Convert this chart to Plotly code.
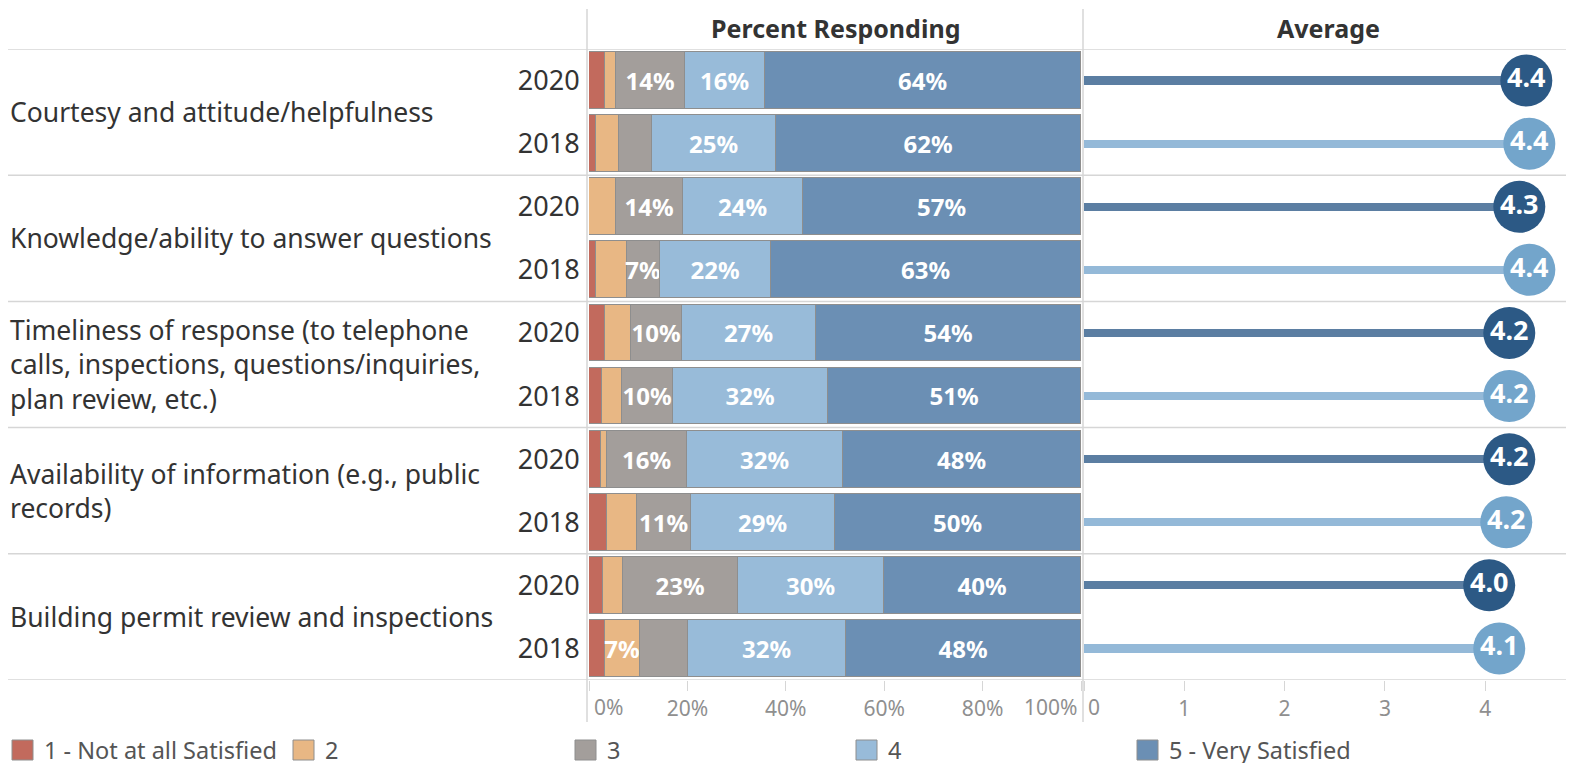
import plotly.graph_objects as go

# ---------------- data ----------------
categories = [
    "Courtesy and attitude/helpfulness",
    "Knowledge/ability to answer questions",
    "Timeliness of response (to telephone<br>calls, inspections, questions/inquiries,<br>plan review, etc.)",
    "Availability of information (e.g., public<br>records)",
    "Building permit review and inspections",
]
years = ["2020", "2018"]

# percent responding, rows ordered: cat0-2020, cat0-2018, cat1-2020, ...
pct_1 = [3.3, 1.5, 0.0, 1.5, 3.2, 2.6, 2.4, 3.7, 2.8, 3.3]
pct_2 = [2.2, 4.5, 5.5, 6.3, 5.3, 4.1, 1.2, 6.1, 4.1, 7.1]
pct_3 = [14.1, 6.9, 13.7, 6.7, 10.4, 10.3, 16.4, 11.0, 23.4, 9.7]
pct_4 = [16.2, 25.2, 24.2, 22.4, 27.2, 31.6, 31.6, 29.1, 29.6, 32.1]
pct_5 = [64.2, 61.9, 56.6, 63.1, 53.9, 51.4, 48.4, 50.1, 40.1, 47.8]

# which segment labels are shown (as in the reference)
show_1 = [False] * 10
show_2 = [False, False, False, False, False, False, False, False, False, True]
show_3 = [True, False, True, True, True, True, True, True, True, False]
show_4 = [True] * 10
show_5 = [True] * 10

avg_2020 = [4.41, 4.34, 4.24, 4.24, 4.04]
avg_2018 = [4.44, 4.44, 4.24, 4.21, 4.14]

level_names = ["1 - Not at all Satisfied", "2", "3", "4", "5 - Very Satisfied"]
level_colors = ["#c26a5d", "#e8b784", "#a39e9b", "#98bbd9", "#6b8fb4"]

pct_ticks = [0, 20, 40, 60, 80, 100]
avg_ticks = [0, 1, 2, 3, 4]

# ---------------- geometry helpers ----------------
W, H = 1574, 763
OFF = 8                     # page body margin of the html page
T = 49 - OFF                # top of plot area (page px 49)
B = H - (680 - OFF)         # bottom of plot area (page px 680)
PH = H - T - B


def px_x(p):
    return (p - OFF) / W


def px_y(p):
    return (H - B - (p - OFF)) / PH


FONT = "Noto Sans"
rows = list(range(len(pct_1)))
row_years = [years[i % 2] for i in rows]

fig = go.Figure()

series = [pct_1, pct_2, pct_3, pct_4, pct_5]
shows = [show_1, show_2, show_3, show_4, show_5]
for name, col, vals, shw in zip(level_names, level_colors, series, shows):
    texts = [f"{round(v)}%" if s else "" for v, s in zip(vals, shw)]
    fig.add_trace(go.Bar(
        x=vals, y=rows, orientation="h", name=name,
        marker=dict(color=col, line=dict(color="#8e8e8e", width=1)),
        width=0.9, text=texts, textposition="inside", textangle=0,
        insidetextanchor="middle", constraintext="none",
        textfont=dict(color="white", size=24, family=FONT, weight="bold"),
        showlegend=False, hoverinfo="skip",
        xaxis="x", yaxis="y",
    ))

# averages: lines + circles
avg_rows_2020 = [2 * i for i in range(len(avg_2020))]
avg_rows_2018 = [2 * i + 1 for i in range(len(avg_2018))]
line_cols = {"2020": "#5b7ea2", "2018": "#94b9d8"}
dot_cols = {"2020": "#2c5985", "2018": "#73a5cb"}
for yr, vals, rr in [("2020", avg_2020, avg_rows_2020), ("2018", avg_2018, avg_rows_2018)]:
    fig.add_trace(go.Bar(
        x=vals, y=rr, orientation="h", width=0.13,
        marker=dict(color=line_cols[yr], line=dict(width=0)),
        showlegend=False, hoverinfo="skip", xaxis="x2", yaxis="y2",
    ))
    fig.add_trace(go.Scatter(
        x=vals, y=rr, mode="markers+text",
        marker=dict(size=52, color=dot_cols[yr], line=dict(width=0)),
        text=[f"{v:.1f}" for v in vals], textposition="middle center",
        textfont=dict(color="white", size=27, family=FONT, weight="bold"),
        showlegend=False, hoverinfo="skip", xaxis="x2", yaxis="y2",
        cliponaxis=False,
    ))

grid = "#d6d6d6"
tick_col = "#8f8f8f"
tickfont = dict(size=21, color=tick_col, family=FONT)
xdom1 = [px_x(589), px_x(1081)]
xdom2 = [px_x(1084), px_x(1084) + 490 / W]


def tick_labels(ticks, fmt, hide):
    return ["" if t in hide else fmt(t) for t in ticks]


fig.update_layout(
    width=W, height=H, autosize=False,
    margin=dict(l=0, r=0, t=T, b=B, pad=0, autoexpand=False),
    plot_bgcolor="white", paper_bgcolor="white",
    barmode="stack", bargap=0,
    font=dict(family=FONT, color="#333333"),
    xaxis=dict(domain=xdom1, range=[0, 100], tickvals=pct_ticks,
               ticktext=tick_labels(pct_ticks, lambda t: f"{t}%", {0, 100}),
               showgrid=False, automargin=False,
               zeroline=False, ticks="outside", ticklen=10, tickcolor=grid,
               tickfont=tickfont, showline=False, fixedrange=True),
    xaxis2=dict(domain=xdom2, range=[0, 490 / 100.3], tickvals=avg_ticks,
                ticktext=tick_labels(avg_ticks, lambda t: f"{t}", {0}), automargin=False,
                showgrid=False, zeroline=False, ticks="outside", ticklen=10,
                tickcolor=grid, tickfont=tickfont, showline=False, anchor="y2"),
    yaxis=dict(range=[9.5, -0.5], tickvals=rows, ticktext=row_years,
               tickfont=dict(size=27, color="#333333", family=FONT),
               ticks="outside", ticklen=3, tickcolor="rgba(0,0,0,0)", automargin=False,
               showgrid=False, zeroline=False, anchor="x"),
    yaxis2=dict(range=[9.5, -0.5], matches="y", showticklabels=False, automargin=False,
                showgrid=False, zeroline=False, anchor="x2"),
)

shapes = []
# horizontal separators
for yb in [-0.5, 1.5, 3.5, 5.5, 7.5, 9.5]:
    shapes.append(dict(type="line", xref="paper", yref="y", x0=px_x(0), x1=px_x(1568),
                       y0=yb, y1=yb, line=dict(color=grid, width=1.5), layer="above"))
# vertical separators
for xp in [587, 1083]:
    shapes.append(dict(type="line", xref="paper", yref="paper", x0=px_x(xp), x1=px_x(xp),
                       y0=px_y(722), y1=px_y(9), line=dict(color=grid, width=1.5)))

annotations = []
# end tick labels placed inside their panels (as in the reference)
tick_y = px_y(707)
annotations.append(dict(text=f"{pct_ticks[0]}%", xref="x", yref="paper", x=pct_ticks[0],
                        y=tick_y, xanchor="left", yanchor="middle", xshift=3,
                        showarrow=False, font=tickfont))
annotations.append(dict(text=f"{pct_ticks[-1]}%", xref="x", yref="paper", x=pct_ticks[-1],
                        y=tick_y, xanchor="right", yanchor="middle", xshift=-1,
                        showarrow=False, font=tickfont))
annotations.append(dict(text=f"{avg_ticks[0]}", xref="x2", yref="paper", x=avg_ticks[0],
                        y=tick_y, xanchor="left", yanchor="middle", xshift=2,
                        showarrow=False, font=tickfont))

annotations.append(dict(text="Percent Responding", xref="paper", yref="paper",
                        x=(xdom1[0] + xdom1[1]) / 2, y=px_y(28), showarrow=False,
                        xanchor="center", yanchor="middle",
                        font=dict(size=25, color="#333333", family=FONT, weight="bold")))
annotations.append(dict(text="Average", xref="paper", yref="paper",
                        x=px_x(1328), y=px_y(28), showarrow=False,
                        xanchor="center", yanchor="middle",
                        font=dict(size=25, color="#333333", family=FONT, weight="bold")))
for i, c in enumerate(categories):
    annotations.append(dict(text=c, xref="paper", yref="y", x=px_x(8), y=2 * i + 0.5,
                            xanchor="left", yanchor="middle", align="left", showarrow=False,
                            font=dict(size=26.5, color="#333333", family=FONT)))

# legend (manual swatches + real text)
leg_x = [12, 293, 575, 856, 1137]
for lx, name, col in zip(leg_x, level_names, level_colors):
    shapes.append(dict(type="rect", xref="paper", yref="paper",
                       x0=px_x(lx), x1=px_x(lx + 21), y0=px_y(760), y1=px_y(740),
                       fillcolor=col, line=dict(color="#8e8e8e", width=1)))
    annotations.append(dict(text=name, xref="paper", yref="paper", x=px_x(lx + 30),
                            y=px_y(750), xanchor="left", yanchor="middle", showarrow=False,
                            font=dict(size=23.5, color="#555555", family=FONT)))

fig.update_layout(shapes=shapes, annotations=annotations)
fig.write_html("out.html")
